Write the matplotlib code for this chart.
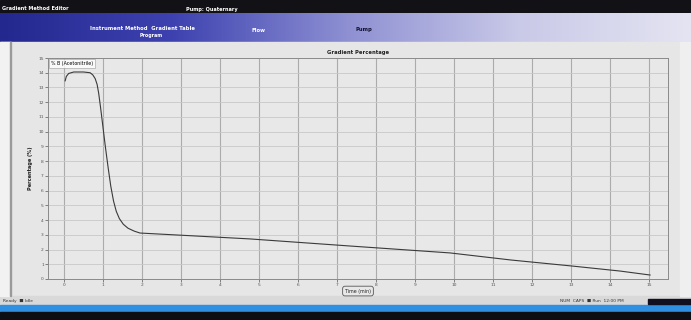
import numpy as np
import matplotlib
import matplotlib.pyplot as plt
from matplotlib.patches import Rectangle
from matplotlib.colors import LinearSegmentedColormap

matplotlib.rcParams["font.family"] = ["DejaVu Sans"]

# gradient profile
x_time = [0.03, 0.06, 0.12, 0.25, 0.50, 0.67, 0.74, 0.80, 0.85, 0.89, 0.94, 1.00, 1.06,
          1.13, 1.20, 1.27, 1.34, 1.42, 1.52, 1.64, 1.80, 1.95, 3.30, 4.77, 7.33, 9.90,
          11.46, 13.03, 14.26, 15.03]
y_percent = [13.45, 13.75, 13.95, 14.05, 14.05, 14.0, 13.85, 13.6, 13.2, 12.6, 11.6,
             10.3, 9.0, 7.6, 6.3, 5.3, 4.6, 4.1, 3.72, 3.45, 3.25, 3.12, 2.93, 2.72,
             2.24, 1.77, 1.29, 0.88, 0.54, 0.27]
x_ticks = list(range(0, 16))
y_ticks = list(range(0, 16))

W, H = 691, 320
fig = plt.figure(figsize=(W / 100, H / 100), dpi=100)
fig.patch.set_facecolor("#e6e6e6")

# ── window chrome ─────────────────────────────────────────────────────────────
bg = fig.add_axes([0, 0, 1, 1])
bg.set_xlim(0, W)
bg.set_ylim(H, 0)
bg.axis("off")

bg.add_patch(Rectangle((0, 0), W, 13, color="#121216", zorder=1))
cmap = LinearSegmentedColormap.from_list("bar", ["#23288f", "#3d42b0", "#8d8fd2", "#c9c9e8", "#e4e4f2"])
bg.imshow(np.linspace(0, 1, 256)[None, :], cmap=cmap, aspect="auto",
          extent=(0, W, 42, 13), zorder=1)
bg.add_patch(Rectangle((0, 42), W, 254, color="#e6e6e6", zorder=1))
bg.add_patch(Rectangle((0, 42), 11, 254, color="#f2f2f2", zorder=2))
bg.add_patch(Rectangle((10, 42), 1.5, 254, color="#9a9a9a", zorder=2))
bg.add_patch(Rectangle((680, 42), 11, 254, color="#efefef", zorder=2))
bg.add_patch(Rectangle((0, 296), W, 9, color="#d9d9d9", zorder=1))
bg.add_patch(Rectangle((0, 305), W, 7, color="#2f8fe0", zorder=1))
bg.add_patch(Rectangle((0, 312), W, 8, color="#0d0d14", zorder=1))
bg.add_patch(Rectangle((648, 299), 43, 5, color="#101020", zorder=2))

bg.text(2, 8, "Gradient Method Editor", color="white", fontsize=3.6,
        fontweight="bold", va="center", zorder=3)
bg.text(186, 9, "Pump: Quaternary", color="white", fontsize=3.6,
        fontweight="bold", va="center", zorder=3)
bg.text(90, 29, "Instrument Method  Gradient Table", color="white", fontsize=3.8,
        fontweight="bold", va="center", zorder=3)
bg.text(140, 36, "Program", color="white", fontsize=3.4, fontweight="bold",
        va="center", zorder=3)
bg.text(252, 30, "Flow", color="white", fontsize=3.8, fontweight="bold",
        va="center", zorder=3)
bg.text(356, 30, "Pump", color="#101030", fontsize=3.8, fontweight="bold",
        va="center", zorder=3)
bg.text(3, 301, "Ready  \u25a0 Idle", color="#333333", fontsize=3.2, va="center", zorder=3)
bg.text(560, 301, "NUM  CAPS  \u25a0 Run  12:00 PM", color="#333333", fontsize=3.2,
        va="center", zorder=3)

# ── chart ─────────────────────────────────────────────────────────────────────
ax = fig.add_axes([48 / W, (H - 279) / H, 620 / W, 221 / H])
ax.set_facecolor("#e8e8e8")
ax.plot(x_time, y_percent, color="#3a3a3a", lw=0.8, label="% B (Acetonitrile)")
ax.set_xlim(-0.41, 15.49)
ax.set_ylim(0, 15)
ax.set_xticks(x_ticks)
ax.set_yticks(y_ticks)
ax.grid(axis="x", color="#ababab", lw=0.8)
ax.grid(axis="y", color="#c8c8c8", lw=0.6)
ax.tick_params(labelsize=3.2, colors="#555555", length=2, width=0.5, pad=1)
for s in ax.spines.values():
    s.set_color("#8a8a8a")
    s.set_linewidth(0.7)

ax.set_title("Gradient Percentage", fontsize=3.8, fontweight="bold", color="#222222", pad=3)
ax.set_ylabel("Percentage (%)", fontsize=3.6, fontweight="bold", color="#222222", labelpad=4)
ax.set_xlabel("Time (min)", fontsize=3.4, color="#222222", labelpad=1,
              bbox=dict(boxstyle="round,pad=0.5", fc="#e8e8e8", ec="#555555", lw=0.6))
leg = ax.legend(loc="upper left", fontsize=3.4, frameon=True, handlelength=0,
                handletextpad=0, borderpad=0.4, fancybox=False, borderaxespad=0.3)
leg.get_frame().set_edgecolor("#999999")
leg.get_frame().set_linewidth(0.5)

plt.savefig("out.png", dpi=100, facecolor=fig.get_facecolor())
